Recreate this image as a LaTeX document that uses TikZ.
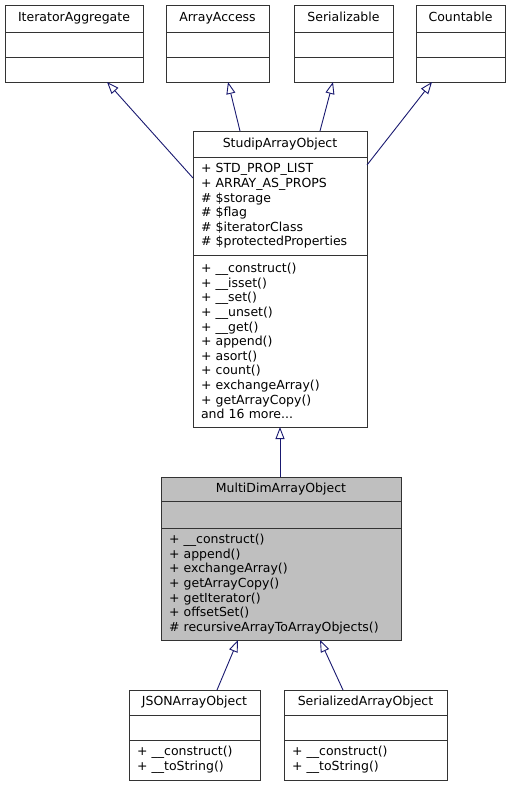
\documentclass[tikz,border=0pt]{standalone}
\usepackage{fontspec}
\setmainfont{DejaVu Sans}
\usetikzlibrary{arrows.meta}

\definecolor{edgeblue}{HTML}{191970}
\definecolor{maingray}{HTML}{BFBFBF}
\definecolor{boxline}{HTML}{333333}

\tikzset{
	part/.style={draw=boxline, line width=1pt, anchor=north west,
		inner xsep=0pt, inner ysep=0pt, outer sep=0pt},
	title part/.style={part, align=center, text height=9.4pt, text depth=2.9pt},
	blank part/.style={part},
	member part/.style={part, align=left, inner xsep=8pt},
	inherit/.style={edgeblue, line width=0.9pt,
		-{Triangle[open, length=12pt, width=9pt]}},
}

\begin{document}
\begin{tikzpicture}[x=1pt,y=-1pt,font=\fontsize{12.5}{14.6}\selectfont]
	\useasboundingbox (0,0) rectangle (510,787);
	% interfaces on top
	\foreach \name/\x/\w [count=\i] in {IteratorAggregate/5/138,ArrayAccess/166/103,Serializable/294/99,Countable/416/89} {
		\node [title part, minimum width=\w pt, minimum height=27pt] (iface-\i) at (\x,5) {\name};
		\node [blank part, minimum width=\w pt, minimum height=25pt] (iface-\i-attr) at (\x,32) {};
		\node [blank part, minimum width=\w pt, minimum height=25pt] (iface-\i-ops) at (\x,57) {};
	}
	% StudipArrayObject
	\node [title part, minimum width=174pt, minimum height=26pt] (studip) at (193,131) {StudipArrayObject};
	\node [member part, text width=158pt, minimum height=98pt] (studip-attr) at (193,157)
		{+ STD\_PROP\_LIST\\+ ARRAY\_AS\_PROPS\\\# \$storage\\\# \$flag\\\# \$iteratorClass\\\# \$protectedProperties};
	\node [member part, text width=158pt, minimum height=172pt] (studip-ops) at (193,255)
		{+ \_\_construct()\\+ \_\_isset()\\+ \_\_set()\\+ \_\_unset()\\+ \_\_get()\\+ append()\\+ asort()\\+ count()\\+ exchangeArray()\\+ getArrayCopy()\\and 16 more...};
	% MultiDimArrayObject
	\node [title part, fill=maingray, minimum width=240pt, minimum height=24pt] (multi) at (161,477) {MultiDimArrayObject};
	\node [blank part, fill=maingray, minimum width=240pt, minimum height=27pt] (multi-attr) at (161,501) {};
	\node [member part, fill=maingray, text width=224pt, minimum height=112pt] (multi-ops) at (161,528)
		{+ \_\_construct()\\+ append()\\+ exchangeArray()\\+ getArrayCopy()\\+ getIterator()\\+ offsetSet()\\\# recursiveArrayToArrayObjects()};
	% subclasses
	\foreach \name/\x/\w [count=\i] in {JSONArrayObject/129/131,SerializedArrayObject/284/163} {
		\node [title part, minimum width=\w pt, minimum height=25pt] (sub-\i) at (\x,690) {\name};
		\node [blank part, minimum width=\w pt, minimum height=25pt] (sub-\i-attr) at (\x,715) {};
		\node [member part, text width=\w pt-16pt, minimum height=40pt] (sub-\i-ops) at (\x,740)
			{+ \_\_construct()\\+ \_\_toString()};
	}
	% generalisations
	\draw [inherit] ([yshift=-21pt]studip-attr.north west) -- ([xshift=33pt]iface-1-ops.south);
	\draw [inherit] ([xshift=-40pt]studip.north) -- ([xshift=10.5pt]iface-2-ops.south);
	\draw [inherit] ([xshift=40pt]studip.north) -- ([xshift=-10.5pt]iface-3-ops.south);
	\draw [inherit] ([yshift=-8pt]studip-attr.north east) -- ([xshift=-28.5pt]iface-4-ops.south);
	\draw [inherit] (studip-ops.south |- multi.north) -- (studip-ops.south);
	\draw [inherit] ([xshift=22.5pt]sub-1.north) -- ([xshift=-43pt]multi-ops.south);
	\draw [inherit] ([xshift=-22.5pt]sub-2.north) -- ([xshift=39pt]multi-ops.south);
\end{tikzpicture}
\end{document}
